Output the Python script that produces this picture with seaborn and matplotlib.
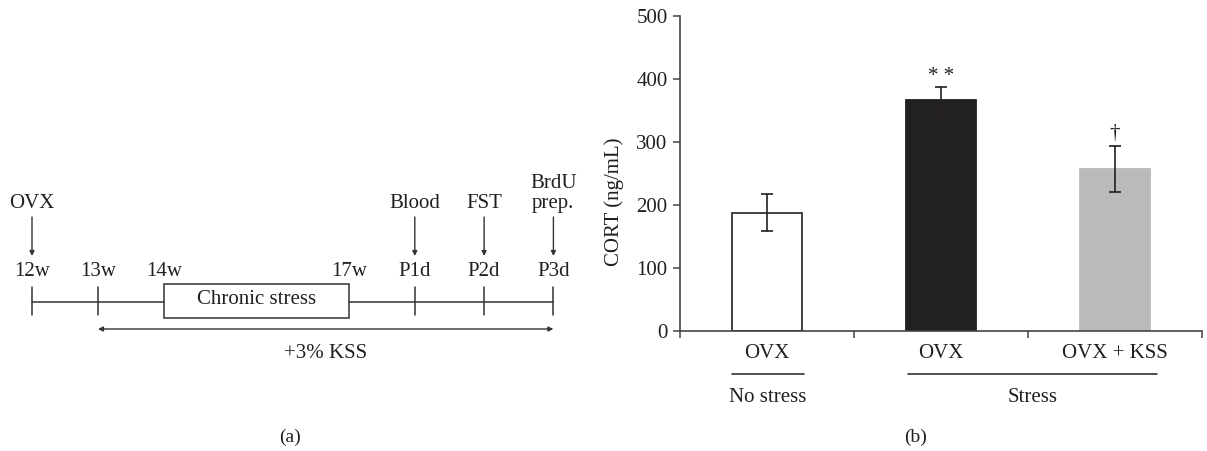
import numpy as np
import pandas as pd
import seaborn as sns
from matplotlib import pyplot as plt
from matplotlib.patches import Rectangle
from matplotlib.transforms import blended_transform_factory

# panel (b) data
groups = ['OVX', 'OVX ', 'OVX + KSS']
tick_labels = ['OVX', 'OVX', 'OVX + KSS']
cort = [188, 366, 257]
cort_err = [29, 21, 37]
bar_colors = ['#ffffff', '#231f20', '#b9babc']
marks = ['', '* *', '\u2020']
stress_groups = ['No stress', 'Stress']

# panel (a) timeline
time_labels = ['12w', '13w', '14w', '17w', 'P1d', 'P2d', 'P3d']
time_pos = [0, 1, 2, 4.8, 5.8, 6.85, 7.9]
events = {0: 'OVX', 4: 'Blood', 5: 'FST', 6: 'BrdU\nprep.'}

sns.set_theme(style='white')
plt.rcParams['font.family'] = ['Liberation Serif', 'DejaVu Serif']
fs = 15
ink = '#231f20'
line = '#333333'

fig = plt.figure(figsize=(12.07, 4.51), dpi=100)

# ---------- (a) timeline ----------
axa = fig.add_axes([0, 0, 0.5, 1])
axa.set_xlim(-32 / 66, (603.5 - 32) / 66)
axa.set_ylim(451, 0)
axa.axis('off')

y_line = 302
axa.plot([time_pos[0], time_pos[-1]], [y_line, y_line], color=line, lw=1.1, zorder=1)
for i, (p, lab) in enumerate(zip(time_pos, time_labels)):
    if i not in (2, 3):
        axa.plot([p, p], [287, 315], color=line, lw=1.1, zorder=1)
    axa.text(p, 271, lab, ha='center', va='center', color=ink, fontsize=fs)
    if i in events:
        axa.text(p, 213, events[i], ha='center', va='bottom', color=ink,
                 fontsize=fs, linespacing=1.05)
        axa.annotate('', xy=(p, 256), xytext=(p, 217),
                     arrowprops=dict(arrowstyle='-|>', color=line, lw=1,
                                     mutation_scale=7, shrinkA=0, shrinkB=0))

box = Rectangle((time_pos[2], 284), time_pos[3] - time_pos[2], 34,
                facecolor='white', edgecolor=line, lw=1.1, zorder=2)
axa.add_patch(box)
axa.text((time_pos[2] + time_pos[3]) / 2, 300, 'Chronic stress', ha='center',
         va='center', color=ink, fontsize=fs, zorder=3)

axa.annotate('', xy=(time_pos[-1], 329), xytext=(time_pos[1], 329),
             arrowprops=dict(arrowstyle='<|-|>', color=line, lw=1,
                             mutation_scale=7, shrinkA=0, shrinkB=0))
axa.text((time_pos[1] + time_pos[-1]) / 2, 354, '+3% KSS', ha='center',
         va='center', color=ink, fontsize=fs)

# ---------- (b) bar chart ----------
axb = fig.add_axes([680 / 1207, 1 - 331 / 451, 522 / 1207, 315 / 451])
df = pd.DataFrame({'group': groups, 'cort': cort})
sns.barplot(data=df, x='group', y='cort', hue='group', palette=bar_colors,
            width=0.4, edgecolor='#333333', linewidth=1.3, legend=False, ax=axb)
for i, bar in enumerate(axb.patches):
    if i != 0:
        bar.set_edgecolor(bar_colors[i])
axb.errorbar(range(len(cort)), cort, yerr=cort_err, fmt='none', ecolor=ink,
             elinewidth=1.2, capsize=4, capthick=1.2)
for i, m in enumerate(marks):
    if m:
        axb.text(i, cort[i] + cort_err[i] + (2 if m == '* *' else 4), m,
                 ha='center', va='bottom', color=ink, fontsize=fs)

axb.set_ylim(0, 500)
axb.set_xlim(-0.5, 2.5)
axb.set_yticks([0, 100, 200, 300, 400, 500])
axb.set_xticks([-0.5, 0.5, 1.5, 2.5], labels=[])
axb.set_xticks([0, 1, 2], labels=tick_labels, minor=True)
axb.tick_params(axis='x', which='major', direction='out', length=5, width=1.1,
                color='#444444', bottom=True)
axb.tick_params(axis='x', which='minor', length=0, pad=9, labelsize=fs,
                labelcolor=ink)
axb.tick_params(axis='y', direction='out', length=5, width=1.1, color='#444444',
                left=True, labelsize=fs, labelcolor=ink, pad=4)
axb.set_xlabel('')
axb.set_ylabel('CORT (ng/mL)', fontsize=fs, color=ink)
axb.yaxis.set_label_coords(-0.107, 0.41)
sns.despine(ax=axb)
for s in ('left', 'bottom'):
    axb.spines[s].set_color('#444444')
    axb.spines[s].set_linewidth(1.2)

tr = blended_transform_factory(axb.transData, axb.transAxes)
spans = [(-0.2, 0.213), (0.81, 2.24)]
for (x0, x1), name in zip(spans, stress_groups):
    axb.plot([x0, x1], [-0.137, -0.137], color=ink, lw=1.1, transform=tr,
             clip_on=False)
    axb.text((x0 + x1) / 2, -0.212, name, ha='center', va='center', color=ink,
             fontsize=fs, transform=tr)

fig.text(290 / 1207, 1 - 437 / 451, '(a)', ha='center', va='center', color=ink,
         fontsize=14)
fig.text(916 / 1207, 1 - 437 / 451, '(b)', ha='center', va='center', color=ink,
         fontsize=14)

fig.savefig('out.png', dpi=100)
